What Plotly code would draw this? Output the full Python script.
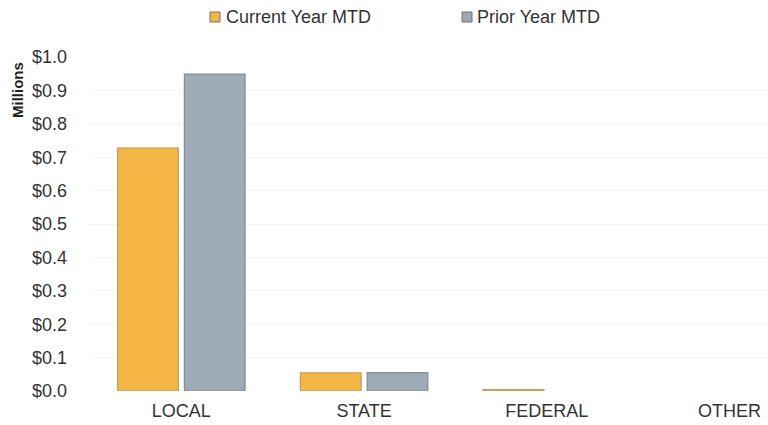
import plotly.graph_objects as go

categories = ["LOCAL", "STATE", "FEDERAL", "OTHER"]
series_names = ["Current Year MTD", "Prior Year MTD"]
current_year_mtd = [0.727, 0.054, 0.004, 0.0]
prior_year_mtd = [0.949, 0.055, 0.0, 0.0]
tick_vals = [0.0, 0.1, 0.2, 0.3, 0.4, 0.5, 0.6, 0.7, 0.8, 0.9, 1.0]
tick_text = ["$0.0", "$0.1", "$0.2", "$0.3", "$0.4", "$0.5", "$0.6", "$0.7", "$0.8", "$0.9", "$1.0"]

font_family = "Liberation Sans, Arial, sans-serif"
fill_colors = ["#F4B644", "#9EABB6"]
edge_colors = ["#C49A5C", "#858C93"]

W, H = 768, 425
L, T, B = 90, 57, 34
plot_w = W - L
plot_h = H - T - B


def outline_widths(values):
    return [1.2 if v > 0 else 0 for v in values]


fig = go.Figure()
for name, vals, fc, ec in zip(series_names, [current_year_mtd, prior_year_mtd], fill_colors, edge_colors):
    fig.add_trace(go.Bar(
        x=categories, y=vals, name=name, showlegend=False,
        marker=dict(color=fc, line=dict(color=ec, width=outline_widths(vals))),
    ))

# legend drawn as swatches + text (positions in pixels -> paper coords)
def px_x(x):
    return (x - L) / plot_w


def px_y(y):
    return (H - B - y) / plot_h


legend_items = [(210, 225), (462, 476)]
shapes = []
annotations = []
for (sx, tx), name, fc, ec in zip(legend_items, series_names, fill_colors, edge_colors):
    shapes.append(dict(
        type="rect", xref="paper", yref="paper",
        x0=px_x(sx), x1=px_x(sx + 10), y0=px_y(22), y1=px_y(12),
        fillcolor=fc, line=dict(color="#707070", width=1),
    ))
    annotations.append(dict(
        text=name, xref="paper", yref="paper", x=px_x(tx - 1), y=px_y(17),
        xanchor="left", yanchor="middle", showarrow=False,
        font=dict(size=18, color="#333333"),
    ))

annotations.append(dict(
    text="<b>Millions</b>", textangle=-90, xref="paper", yref="paper",
    x=px_x(18), y=px_y(90), xanchor="center", yanchor="middle",
    showarrow=False, font=dict(size=15, color="#222222"),
))

fig.update_layout(
    width=W, height=H,
    margin=dict(l=L, r=0, t=T, b=B),
    paper_bgcolor="white", plot_bgcolor="white",
    barmode="group", bargap=0.27, bargroupgap=0.09,
    font=dict(family=font_family, size=18, color="#333333"),
    xaxis=dict(
        range=[-0.5, 3.21], showgrid=False, showline=False, zeroline=False,
        ticks="", tickfont=dict(size=18, color="#333333"), ticklabelstandoff=7,
    ),
    yaxis=dict(
        range=[0, 1.0], tickvals=tick_vals, ticktext=tick_text,
        showgrid=True, gridcolor="#F4F4F4", gridwidth=1,
        zeroline=False, showline=False, ticks="",
        tickfont=dict(size=18, color="#333333"), ticklabelstandoff=22,
    ),
    shapes=shapes,
    annotations=annotations,
)

fig.write_html("out.html")
